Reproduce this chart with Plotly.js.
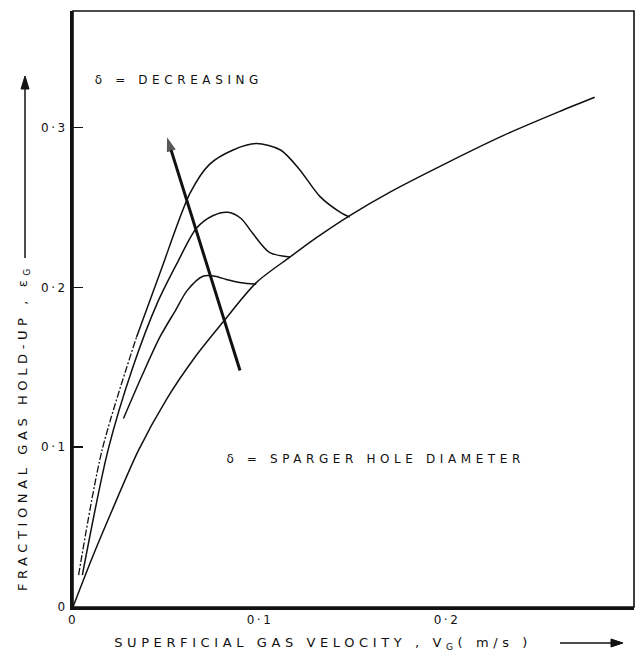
<!DOCTYPE html>
<html>
<head>
<meta charset="utf-8">
<script src="https://cdn.plot.ly/plotly-3.0.1.min.js"></script>
<style>
  body { margin: 0; background: #fff; }
  #plot { width: 638px; height: 659px; }
  #plot .annotation-text { letter-spacing: 4.6px; }
  #plot .xtick text, #plot .ytick text { letter-spacing: 2.5px; }
</style>
</head>
<body>
<div id="plot"></div>
<script>
// Homogeneous (base) curve
const baseX = [0, 0.01, 0.02, 0.035, 0.05, 0.065, 0.08, 0.098, 0.116, 0.13, 0.148, 0.17, 0.2, 0.23, 0.26, 0.279];
const baseY = [0, 0.03, 0.058, 0.098, 0.13, 0.156, 0.178, 0.203, 0.219, 0.231, 0.245, 0.26, 0.278, 0.295, 0.31, 0.319];
// Largest hole diameter (lowest hump)
const lowX = [0.027, 0.037, 0.0465, 0.055, 0.061, 0.0695, 0.076, 0.082, 0.09, 0.098];
const lowY = [0.118, 0.145, 0.169, 0.186, 0.198, 0.207, 0.207, 0.205, 0.203, 0.202];
// Middle hole diameter
const midX = [0.005, 0.0187, 0.032, 0.045, 0.0556, 0.066, 0.075, 0.083, 0.09, 0.096, 0.105, 0.116];
const midY = [0.02, 0.098, 0.150, 0.19, 0.215, 0.237, 0.245, 0.247, 0.243, 0.234, 0.222, 0.219];
// Smallest hole diameter (highest hump): faint lower part, then solid part
const highLowX = [0.003, 0.0155, 0.034];
const highLowY = [0.02, 0.098, 0.169];
const highX = [0.034, 0.0465, 0.0626, 0.073, 0.0856, 0.098, 0.111, 0.121, 0.132, 0.143, 0.148];
const highY = [0.169, 0.209, 0.259, 0.277, 0.286, 0.29, 0.286, 0.274, 0.257, 0.247, 0.244];
// "δ decreasing" arrow (tail, tip)
const arrowX = [0.0893, 0.0503];
const arrowY = [0.148, 0.294];

const xTickVals = [0, 0.1, 0.2, 0.3];
const xTickText = ["0", "0·1", "0·2", "0·3"];
const yTickVals = [0, 0.1, 0.2, 0.3];
const yTickText = ["0", "0·1", "0·2", "0·3"];

const INK = '#111';
const lineStyle = {color: INK, width: 1.5, shape: 'spline', smoothing: 0.8};
const traces = [
  {x: baseX, y: baseY, mode: 'lines', line: lineStyle, hoverinfo: 'skip'},
  {x: lowX, y: lowY, mode: 'lines', line: lineStyle, hoverinfo: 'skip'},
  {x: midX, y: midY, mode: 'lines', line: lineStyle, hoverinfo: 'skip'},
  {x: highLowX, y: highLowY, mode: 'lines',
   line: {color: INK, width: 1.3, shape: 'spline', smoothing: 0.8, dash: '7px,2px,2px,2px'}, hoverinfo: 'skip'},
  {x: highX, y: highY, mode: 'lines', line: lineStyle, hoverinfo: 'skip'},
  {x: arrowX, y: arrowY, mode: 'lines+markers', line: {color: INK, width: 3},
   marker: {symbol: 'arrow', angleref: 'previous', size: [0, 15], color: INK, line: {width: 0}},
   hoverinfo: 'skip'}
];

// plot box in pixels: left 73, right 634, top 11, bottom 607
const L = 73, R = 634, T = 11, B = 607;
const px = v => (v - L) / (R - L);
const py = v => (B - v) / (B - T);

const fam = 'DejaVu Sans, sans-serif';

const layout = {
  width: 638, height: 659,
  margin: {l: L, r: 638 - R, t: T, b: 659 - B},
  paper_bgcolor: '#fff', plot_bgcolor: '#fff',
  showlegend: false,
  font: {family: fam, size: 12, color: INK},
  xaxis: {
    range: [0, 0.3], tickvals: xTickVals, ticktext: xTickText,
    showgrid: false, zeroline: false, showline: true, linewidth: 3, linecolor: INK,
    ticks: '', tickfont: {family: fam, size: 12, color: INK}
  },
  yaxis: {
    range: [0, 0.373], tickvals: yTickVals, ticktext: yTickText,
    showgrid: false, zeroline: false, showline: true, linewidth: 3, linecolor: INK,
    ticks: 'inside', ticklen: 10, tickwidth: 1.5, tickcolor: INK,
    tickfont: {family: fam, size: 12, color: INK}
  },
  shapes: [
    {type: 'rect', xref: 'paper', yref: 'paper', x0: 0, x1: 1, y0: 0, y1: 1,
     line: {color: INK, width: 1.6}},
    // x-title arrow
    {type: 'line', xref: 'paper', yref: 'paper', x0: px(560), x1: px(614), y0: py(643), y1: py(643),
     line: {color: INK, width: 1.5}},
    {type: 'path', xref: 'paper', yref: 'paper',
     path: `M ${px(623)} ${py(643)} L ${px(611)} ${py(639)} L ${px(611)} ${py(647)} Z`,
     fillcolor: INK, line: {color: INK, width: 1}},
    // y-title arrow
    {type: 'line', xref: 'paper', yref: 'paper', x0: px(25), x1: px(25), y0: py(258), y1: py(88),
     line: {color: INK, width: 1.5}},
    {type: 'path', xref: 'paper', yref: 'paper',
     path: `M ${px(25)} ${py(76)} L ${px(21)} ${py(89)} L ${px(29)} ${py(89)} Z`,
     fillcolor: INK, line: {color: INK, width: 1}}
  ],
  annotations: [
    {x: 0.0567, y: 0.33, xref: 'x', yref: 'y', xanchor: 'center', yanchor: 'middle',
     text: 'δ = DECREASING', showarrow: false, font: {family: fam, size: 12, color: INK}},
    {x: 0.1615, y: 0.0927, xref: 'x', yref: 'y', xanchor: 'center', yanchor: 'middle',
     text: 'δ = SPARGER HOLE DIAMETER', showarrow: false, font: {family: fam, size: 12, color: INK}},
    {x: px(323), y: py(643), xref: 'paper', yref: 'paper', xanchor: 'center', yanchor: 'middle',
     text: 'SUPERFICIAL GAS VELOCITY , V<sub>G</sub>( m/s )', showarrow: false,
     font: {family: fam, size: 13, color: INK}},
    {x: px(23), y: py(428), xref: 'paper', yref: 'paper', xanchor: 'center', yanchor: 'middle',
     textangle: -90, text: 'FRACTIONAL GAS HOLD-UP , ε<sub>G</sub>', showarrow: false,
     font: {family: fam, size: 13, color: INK}}
  ]
};

Plotly.newPlot('plot', traces, layout, {displayModeBar: false, staticPlot: true});
</script>
</body>
</html>
